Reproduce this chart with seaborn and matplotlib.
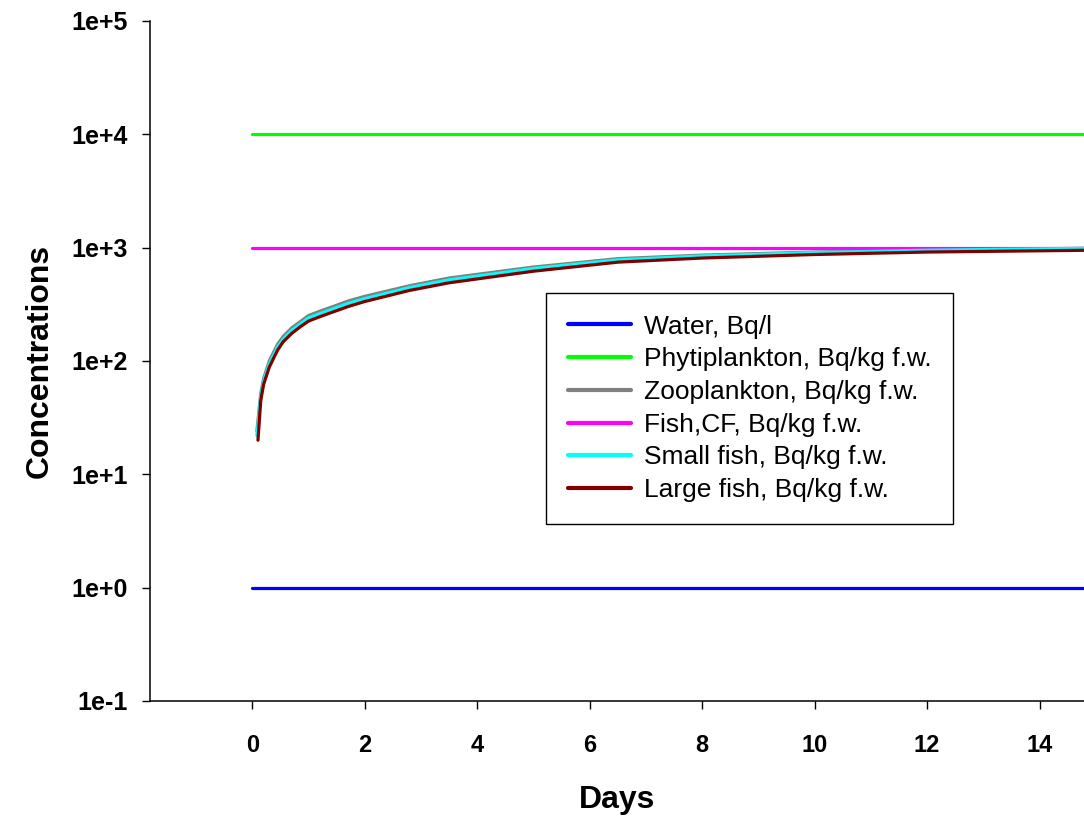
import numpy as np
import pandas as pd
import matplotlib
matplotlib.use("Agg")
import matplotlib.pyplot as plt
import matplotlib.ticker as mticker
from matplotlib import font_manager
import seaborn as sns

# ---- data ----
days_const = [0.0, 14.8]
water = [1.0, 1.0]
phytoplankton = [1e4, 1e4]
fish_cf = [1e3, 1e3]

days_curve = [0.08, 0.1, 0.15, 0.2, 0.3, 0.45, 0.55, 0.7, 0.85, 1.0, 1.2, 1.4, 1.7,
              2.0, 2.8, 3.5, 5.0, 6.5, 8.0, 10.0, 12.0, 14.8]
zooplankton = [24, 30, 52, 70, 100, 141, 165, 196, 222, 252, 275, 298, 338,
               372, 462, 540, 675, 800, 860, 915, 955, 988]
small_fish = [22, 27, 48, 66, 94, 133, 156, 186, 212, 240, 262, 284, 322,
              355, 445, 520, 655, 780, 845, 905, 950, 985]
large_fish = [None, 20, 45, 62, 88, 125, 148, 175, 200, 225, 246, 267, 302,
              335, 420, 490, 620, 745, 810, 870, 915, 948]

labels = ["Water, Bq/l", "Phytiplankton, Bq/kg f.w.", "Zooplankton, Bq/kg f.w.",
          "Fish,CF, Bq/kg f.w.", "Small fish, Bq/kg f.w.", "Large fish, Bq/kg f.w."]
colors = ["#0000ff", "#00ff00", "#808080", "#ff00ff", "#00ffff", "#800000"]

ytick_vals = [1e-1, 1e0, 1e1, 1e2, 1e3, 1e4, 1e5]
ytick_labels = ["1e-1", "1e+0", "1e+1", "1e+2", "1e+3", "1e+4", "1e+5"]
xtick_vals = [0, 2, 4, 6, 8, 10, 12, 14]

# ---- long-form table ----
rows = []
for x, y in zip(days_const, water):
    rows.append((x, y, labels[0]))
for x, y in zip(days_const, phytoplankton):
    rows.append((x, y, labels[1]))
for x, y in zip(days_curve, zooplankton):
    rows.append((x, y, labels[2]))
for x, y in zip(days_const, fish_cf):
    rows.append((x, y, labels[3]))
for x, y in zip(days_curve, small_fish):
    rows.append((x, y, labels[4]))
for x, y in zip(days_curve, large_fish):
    if y is not None:
        rows.append((x, y, labels[5]))
df = pd.DataFrame(rows, columns=["Days", "Concentrations", "Series"])

sns.set_theme(style="white")
plt.rcParams["font.family"] = ["Liberation Sans", "DejaVu Sans"]
plt.rcParams["text.color"] = "black"
plt.rcParams["axes.labelcolor"] = "black"

available = {f.name for f in font_manager.fontManager.ttflist}
narrow = ["Liberation Sans Narrow", "Liberation Sans"] if "Liberation Sans Narrow" in available \
    else ["Liberation Sans", "DejaVu Sans"]

fig = plt.figure(figsize=(10.84, 8.16), dpi=100)
ax = fig.add_axes([150 / 1084, 1 - 701 / 816, 934 / 1084, 680 / 816])

sns.lineplot(data=df, x="Days", y="Concentrations", hue="Series", hue_order=labels,
             palette=dict(zip(labels, colors)), sort=False, estimator=None,
             linewidth=2.3, ax=ax, legend=True)

ax.set_yscale("log")
ax.set_ylim(1e-1, 1e5)
ax.set_xlim(-1.82, 14.79)
ax.set_yticks(ytick_vals)
ax.set_yticklabels(ytick_labels)
ax.yaxis.set_minor_locator(mticker.NullLocator())
ax.set_xticks(xtick_vals)
ax.set_xticklabels([str(v) for v in xtick_vals])

for s in ["top", "right"]:
    ax.spines[s].set_visible(False)
for s in ["left", "bottom"]:
    ax.spines[s].set_color("black")
    ax.spines[s].set_linewidth(1.1)

ax.tick_params(axis="y", which="major", direction="out", length=6, width=1.0,
               color="black", pad=10, left=True)
ax.tick_params(axis="x", which="major", direction="out", length=6, width=1.0,
               color="black", pad=18, bottom=True)
for t in ax.get_yticklabels():
    t.set_fontsize(18)
    t.set_fontweight("bold")
    t.set_color("black")
for t in ax.get_xticklabels():
    t.set_fontsize(17)
    t.set_fontweight("bold")
    t.set_color("black")
    t.set_family(narrow)

ax.set_xlabel("Days", fontsize=23, fontweight="bold", color="black", labelpad=20,
              family=narrow)
ax.set_ylabel("Concentrations", fontsize=23, fontweight="bold", color="black", labelpad=12)

handles, lbls = ax.get_legend_handles_labels()
leg = ax.legend(handles, lbls, loc="upper left", bbox_to_anchor=(0.424, 0.600),
                borderaxespad=0, frameon=True, fancybox=False, framealpha=1,
                edgecolor="black", fontsize=19, handlelength=2.4,
                handletextpad=0.5, labelspacing=0.33, borderpad=0.82)
leg.get_frame().set_linewidth(1.0)
for line in leg.get_lines():
    line.set_linewidth(3)
for txt in leg.get_texts():
    txt.set_color("black")

fig.savefig("out.png", dpi=100)
